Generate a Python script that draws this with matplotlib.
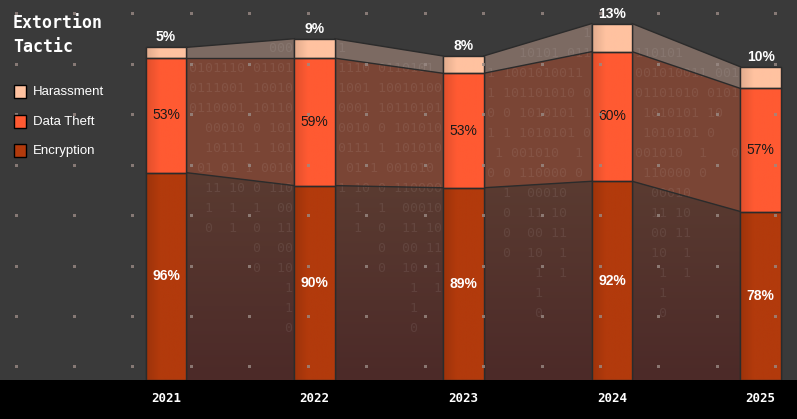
import matplotlib
matplotlib.use("Agg")
import matplotlib.pyplot as plt
from matplotlib.patches import Polygon, Rectangle
from matplotlib.colors import LinearSegmentedColormap
import numpy as np

# data
years = ["2021", "2022", "2023", "2024", "2025"]
encryption = [96, 90, 89, 92, 78]
data_theft = [53, 59, 53, 60, 57]
harassment = [5, 9, 8, 13, 10]
series_names = ["Encryption", "Data Theft", "Harassment"]

# style
BG = "#3a3a3a"
bar_colors = ["#b23a0c", "#ff5a32", "#ffc2a0"]
link_colors = ["#573830", "#7a4535", "#7c6a62"]
W, H = 797, 419
PX_PER_UNIT = 2.16
BASE_PX = 380

fig = plt.figure(figsize=(W / 100, H / 100), dpi=100, facecolor=BG)

# background layer in pixel coordinates
bg = fig.add_axes([0, 0, 1, 1], zorder=0)
bg.set_xlim(0, W)
bg.set_ylim(H, 0)
bg.axis("off")
bg.add_patch(Rectangle((0, BASE_PX), W, H - BASE_PX, color="black", lw=0))

# main axes
ax = fig.add_axes([0, (H - BASE_PX) / H, 1, BASE_PX / H], zorder=1)
ax.patch.set_alpha(0)
ax.axis("off")
step = 148.65
x0px = 166
ax.set_xlim(-x0px / step, (W - x0px) / step)
ax.set_ylim(0, BASE_PX / PX_PER_UNIT)

x = np.arange(len(years))
bw = 40.5 / step
layers = [np.array(encryption), np.array(data_theft), np.array(harassment)]
bottoms = [np.zeros(len(years)), layers[0], layers[0] + layers[1]]
tops = [b + l for b, l in zip(bottoms, layers)]

# decorative binary rain in the gaps
binary_rows = [
    "01010101010000110010",
    "0101110 0110101 0110",
    "0111001 1001010011 0",
    "0110001 101101010 01",
    "  00010 0 1010101 10",
    "  10111 1 1010101 0 ",
    " 01 01 1 001010  1  ",
    "  11 10 0 110000 0  ",
    "  1  1  1  00010    ",
    "  0  1  0  11 10    ",
    "        0  00 11    ",
    "        0  10  1    ",
    "            1  1    ",
    "            1       ",
    "            0       ",
]
grad = np.linspace(0, 1, 256).reshape(-1, 1)
enc_cmap = LinearSegmentedColormap.from_list("enc", ["#4c2a28", "#5a3b31"])
FS_BIN = 9.5
cw = 0.602 * FS_BIN * 100 / 72 / step

# connectors between bars
for i in range(len(years) - 1):
    xa, xb = x[i] + bw / 2, x[i + 1] - bw / 2
    for k in range(3):
        pts = [(xa, bottoms[k][i]), (xb, bottoms[k][i + 1]),
               (xb, tops[k][i + 1]), (xa, tops[k][i])]
        poly = Polygon(pts, closed=True, facecolor=link_colors[k],
                       edgecolor="none", zorder=1)
        ax.add_patch(poly)
        if k == 0:
            im = ax.imshow(grad, cmap=enc_cmap, aspect="auto", origin="lower",
                           extent=(xa, xb, 0, max(tops[0][i], tops[0][i + 1])),
                           zorder=1.1)
            im.set_clip_path(poly)
        ax.plot([xa, xb], [tops[k][i], tops[k][i + 1]], color="#2b2b2b",
                lw=1, zorder=1.5)

    ncol = int((xb - xa) / cw)
    shift = i * 3
    ytop = max(tops[2][i], tops[2][i + 1]) - 1.5
    for r, row in enumerate(binary_rows):
        yv = ytop - r * 20 / PX_PER_UNIT
        if yv < 4:
            break
        src = (row[shift:] + row[:shift])
        chars = []
        for j in range(ncol):
            cx = xa + 0.02 + (j + 0.5) * cw
            lim = np.interp(cx, [xa, xb], [tops[2][i], tops[2][i + 1]])
            ch = src[j % len(src)]
            chars.append(ch if yv <= lim - 0.5 else " ")
        ax.text(xa + 0.02, yv, "".join(chars), family="DejaVu Sans Mono",
                fontsize=FS_BIN, color="white", alpha=0.08, va="top",
                ha="left", zorder=1.2)

# grid dots (over connectors, under bars)
for gx in np.arange(16, W, 58.45):
    for gy in np.arange(14, BASE_PX, 50.4):
        fig.patches.append(Rectangle(((gx - 1.5) / W, 1 - (gy + 1.5) / H),
                                     3 / W, 3 / H, transform=fig.transFigure,
                                     color="#9a8a84", lw=0, alpha=0.8,
                                     figure=fig))

# bars
shade = np.linspace(0, 1, 64).reshape(1, -1)
for k in range(3):
    bars = ax.bar(x, layers[k], bw, bottom=bottoms[k], color=bar_colors[k],
                  edgecolor="#2b2b2b", lw=1, zorder=3)
    c = matplotlib.colors.to_rgb(bar_colors[k])
    dark = tuple(v * 0.88 for v in c)
    cm = LinearSegmentedColormap.from_list("s%d" % k, [dark, c, c, c])
    for b in bars:
        im = ax.imshow(shade, cmap=cm, aspect="auto",
                       extent=(b.get_x(), b.get_x() + b.get_width(),
                               b.get_y(), b.get_y() + b.get_height()),
                       zorder=3.1)
        im.set_clip_path(b)
        ax.add_patch(Rectangle((b.get_x(), b.get_y()), b.get_width(),
                               b.get_height(), fill=False,
                               edgecolor="#2b2b2b", lw=1, zorder=3.2))

# value labels
for i in range(len(years)):
    ax.text(x[i], encryption[i] / 2, f"{encryption[i]}%", ha="center",
            va="center", color="white", fontsize=10, fontweight="bold",
            family="Liberation Sans", zorder=5)
    ax.text(x[i], encryption[i] + data_theft[i] / 2, f"{data_theft[i]}%",
            ha="center", va="center", color="#1a1a1a", fontsize=10,
            family="Liberation Sans", zorder=5)
    ax.text(x[i], tops[2][i] + 4.6, f"{harassment[i]}%", ha="center",
            va="center", color="white", fontsize=10, fontweight="bold",
            family="Liberation Sans", zorder=5)
    ax.text(x[i], -18 / PX_PER_UNIT, years[i], ha="center", va="center",
            color="white", fontsize=9, fontweight="bold",
            family="DejaVu Sans Mono", clip_on=False, zorder=5)

# title and legend
fig.text(13 / W, 1 - 35 / H, "Extortion\nTactic", color="white", fontsize=12,
         fontweight="bold", family="DejaVu Sans Mono", va="center",
         linespacing=1.5)
for j, k in enumerate([2, 1, 0]):
    yc = 92 + j * 29.5
    fig.patches.append(Rectangle((14 / W, 1 - (yc + 6.5) / H), 12 / W, 13 / H,
                                 transform=fig.transFigure,
                                 facecolor=bar_colors[k], edgecolor="black",
                                 lw=1, figure=fig))
    fig.text(33 / W, 1 - yc / H, series_names[k], color="white", fontsize=9.5,
             family="Liberation Sans", va="center")

fig.savefig("out.png", dpi=100, facecolor=BG)
